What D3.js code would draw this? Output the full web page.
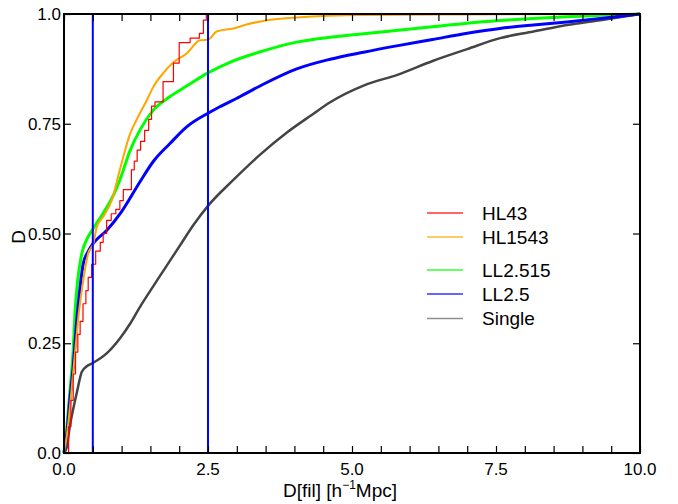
<!DOCTYPE html>
<html>
<head>
<meta charset="utf-8">
<script src="https://cdn.jsdelivr.net/npm/d3@7"></script>
<style>
  body { margin: 0; background: #fff; }
  text { font-family: "Liberation Sans", Arial, sans-serif; fill: #000; }
</style>
</head>
<body>
<div id="chart"></div>
<script>
// series values: distance and cumulative fraction
var singleX = [0, 0.05, 0.1, 0.16, 0.22, 0.31, 0.4, 0.5, 0.74, 0.97, 1.15, 1.32, 1.5, 1.75, 2.0, 2.25, 2.5, 2.94, 3.4, 3.87, 4.3, 4.62, 5.2, 5.8, 6.4, 7.0, 7.57, 8.15, 8.73, 9.31, 10];
var singleY = [0, 0.014, 0.06, 0.1, 0.136, 0.185, 0.198, 0.205, 0.227, 0.261, 0.295, 0.333, 0.37, 0.42, 0.47, 0.52, 0.563, 0.622, 0.679, 0.73, 0.77, 0.799, 0.837, 0.862, 0.893, 0.92, 0.945, 0.96, 0.975, 0.986, 1.0];

var ll25X = [0, 0.05, 0.1, 0.16, 0.22, 0.28, 0.335, 0.42, 0.51, 0.74, 1.0, 1.32, 1.55, 1.84, 2.13, 2.5, 2.71, 3.06, 3.46, 4.04, 4.62, 5.2, 5.8, 6.4, 7.0, 7.57, 8.15, 8.73, 9.31, 10];
var ll25Y = [0, 0.045, 0.12, 0.197, 0.30, 0.379, 0.432, 0.459, 0.478, 0.507, 0.55, 0.618, 0.664, 0.705, 0.743, 0.774, 0.789, 0.812, 0.84, 0.875, 0.897, 0.913, 0.928, 0.942, 0.956, 0.967, 0.975, 0.982, 0.99, 1.0];

var ll2515X = [0, 0.05, 0.1, 0.16, 0.19, 0.22, 0.31, 0.39, 0.51, 0.68, 0.86, 0.97, 1.15, 1.32, 1.55, 1.84, 2.13, 2.5, 2.88, 3.46, 4.04, 4.62, 5.2, 5.8, 6.4, 7.0, 7.57, 8.15, 8.73, 9.31, 10];
var ll2515Y = [0, 0.06, 0.137, 0.235, 0.318, 0.37, 0.455, 0.485, 0.512, 0.546, 0.588, 0.622, 0.69, 0.736, 0.781, 0.812, 0.836, 0.866, 0.89, 0.916, 0.936, 0.947, 0.955, 0.963, 0.971, 0.979, 0.985, 0.99, 0.994, 0.997, 1.0];

var hl1543X = [0, 0.05, 0.1, 0.15, 0.2, 0.25, 0.335, 0.42, 0.51, 0.57, 0.68, 0.83, 0.97, 1.15, 1.26, 1.44, 1.55, 1.72, 1.9, 2.13, 2.36, 2.51, 2.65, 2.94, 3.17, 3.46, 4.04, 5.2, 7.0, 10];
var hl1543Y = [0, 0.04, 0.1, 0.17, 0.24, 0.31, 0.394, 0.455, 0.478, 0.515, 0.538, 0.576, 0.645, 0.728, 0.759, 0.804, 0.834, 0.865, 0.89, 0.91, 0.94, 0.942, 0.96, 0.967, 0.976, 0.984, 0.992, 0.998, 0.999, 1.0];

// HL43 is a step curve (few haloes)
var hl43X = [0, 0.08, 0.12, 0.16, 0.2, 0.24, 0.28, 0.33, 0.38, 0.42, 0.48, 0.55, 0.63, 0.68, 0.74, 0.82, 0.9, 0.97, 1.03, 1.17, 1.22, 1.27, 1.33, 1.4, 1.47, 1.52, 1.58, 1.72, 1.9, 2.0, 2.19, 2.35, 2.42, 2.47];
var hl43Y = [0, 0.06, 0.12, 0.18, 0.23, 0.27, 0.3, 0.34, 0.37, 0.4, 0.43, 0.46, 0.48, 0.5, 0.53, 0.545, 0.555, 0.575, 0.6, 0.645, 0.665, 0.69, 0.71, 0.735, 0.76, 0.79, 0.8, 0.846, 0.888, 0.935, 0.945, 0.956, 0.986, 1.0];

var names = ["HL43", "HL1543", "LL2.515", "LL2.5", "Single"];
var colors = ["#ff0000", "#ffa500", "#00ff00", "#0000ff", "#444444"];
var markers = [0.5, 2.5];
var xTickLabels = [0, 2.5, 5, 7.5, 10];
var yTickLabels = [0, 0.25, 0.5, 0.75, 1];

var width = 678, height = 504;
var margin = {top: 14, right: 38, bottom: 51, left: 64};

var svg = d3.select("#chart").append("svg")
    .attr("width", width)
    .attr("height", height);

var x = d3.scaleLinear().domain([0, 10]).range([margin.left, width - margin.right]);
var y = d3.scaleLinear().domain([0, 1]).range([height - margin.bottom, margin.top]);

function zip(xs, ys) {
    return xs.map(function (v, i) { return [v, ys[i]]; });
}

var series = [
    {name: "Single", pts: zip(singleX, singleY), color: colors[4], w: 2.5, curve: d3.curveMonotoneX},
    {name: "LL2.515", pts: zip(ll2515X, ll2515Y), color: colors[2], w: 3, curve: d3.curveMonotoneX},
    {name: "LL2.5", pts: zip(ll25X, ll25Y), color: colors[3], w: 3, curve: d3.curveMonotoneX},
    {name: "HL1543", pts: zip(hl1543X, hl1543Y), color: colors[1], w: 2, curve: d3.curveMonotoneX},
    {name: "HL43", pts: zip(hl43X, hl43Y), color: colors[0], w: 1.2, curve: d3.curveStepAfter}
];

var plot = svg.append("g");

series.forEach(function (s) {
    var line = d3.line()
        .x(function (d) { return x(d[0]); })
        .y(function (d) { return y(d[1]); })
        .curve(s.curve);
    plot.append("path")
        .datum(s.pts)
        .attr("fill", "none")
        .attr("stroke", s.color)
        .attr("stroke-width", s.w)
        .attr("stroke-linejoin", "round")
        .attr("d", line);
});

// vertical marker lines
plot.selectAll(".marker")
    .data(markers)
    .enter().append("line")
    .attr("x1", function (d) { return x(d); })
    .attr("x2", function (d) { return x(d); })
    .attr("y1", y(0))
    .attr("y2", y(1))
    .attr("stroke", "#0000ff")
    .attr("stroke-width", 2);

// axes, ticks pointing inside
var tickLen = 7;
var xMinor = d3.range(0, 10.001, 0.5);

svg.append("g")
    .attr("transform", "translate(0," + y(0) + ")")
    .call(d3.axisTop(x).tickValues(xMinor).tickSize(tickLen).tickFormat(""))
    .call(function (g) { g.select(".domain").remove(); });

svg.append("g")
    .attr("transform", "translate(0," + y(1) + ")")
    .call(d3.axisBottom(x).tickValues(xMinor).tickSize(tickLen).tickFormat(""))
    .call(function (g) { g.select(".domain").remove(); });

svg.append("g")
    .attr("transform", "translate(" + x(0) + ",0)")
    .call(d3.axisRight(y).tickValues(yTickLabels).tickSize(tickLen).tickFormat(""))
    .call(function (g) { g.select(".domain").remove(); });

svg.append("g")
    .attr("transform", "translate(" + x(10) + ",0)")
    .call(d3.axisLeft(y).tickValues(yTickLabels).tickSize(tickLen).tickFormat(""))
    .call(function (g) { g.select(".domain").remove(); });

svg.selectAll(".tick line").attr("stroke", "#000").attr("stroke-width", 1.2);

// frame
svg.append("rect")
    .attr("x", x(0))
    .attr("y", y(1))
    .attr("width", x(10) - x(0))
    .attr("height", y(0) - y(1))
    .attr("fill", "none")
    .attr("stroke", "#000")
    .attr("stroke-width", 2);

// tick labels
svg.selectAll(".xlab")
    .data(xTickLabels)
    .enter().append("text")
    .attr("x", function (d) { return x(d); })
    .attr("y", y(0) + 22)
    .attr("text-anchor", "middle")
    .style("font-size", "17px")
    .text(function (d) { return d3.format(".1f")(d); });

svg.selectAll(".ylab")
    .data(yTickLabels)
    .enter().append("text")
    .attr("x", x(0) - 3)
    .attr("y", function (d) { return y(d); })
    .attr("dy", "0.36em")
    .attr("text-anchor", "end")
    .style("font-size", "17px")
    .text(function (d) { return d === 0 || d === 1 ? d3.format(".1f")(d) : d3.format(".2f")(d); });

// axis titles
var xt = svg.append("text")
    .attr("x", 340)
    .attr("y", 497)
    .attr("text-anchor", "middle")
    .style("font-size", "19px");
xt.append("tspan").text("D[fil] [h");
xt.append("tspan").attr("dy", -8).style("font-size", "12px").text("\u22121");
xt.append("tspan").attr("dy", 8).text("Mpc]");

svg.append("text")
    .attr("transform", "translate(25,237) rotate(-90)")
    .attr("text-anchor", "middle")
    .style("font-size", "19px")
    .text("D");

// legend
var legendY = [213, 237, 270, 294, 318.5];
var legend = svg.append("g");
names.forEach(function (n, i) {
    legend.append("line")
        .attr("x1", 427).attr("x2", 463)
        .attr("y1", legendY[i]).attr("y2", legendY[i])
        .attr("stroke", colors[i])
        .attr("stroke-opacity", i === 4 ? 0.6 : 0.8)
        .attr("stroke-width", 1.5);
    legend.append("text")
        .attr("x", 482)
        .attr("y", legendY[i])
        .attr("dy", "0.36em")
        .style("font-size", "19px")
        .text(n);
});
</script>
</body>
</html>
